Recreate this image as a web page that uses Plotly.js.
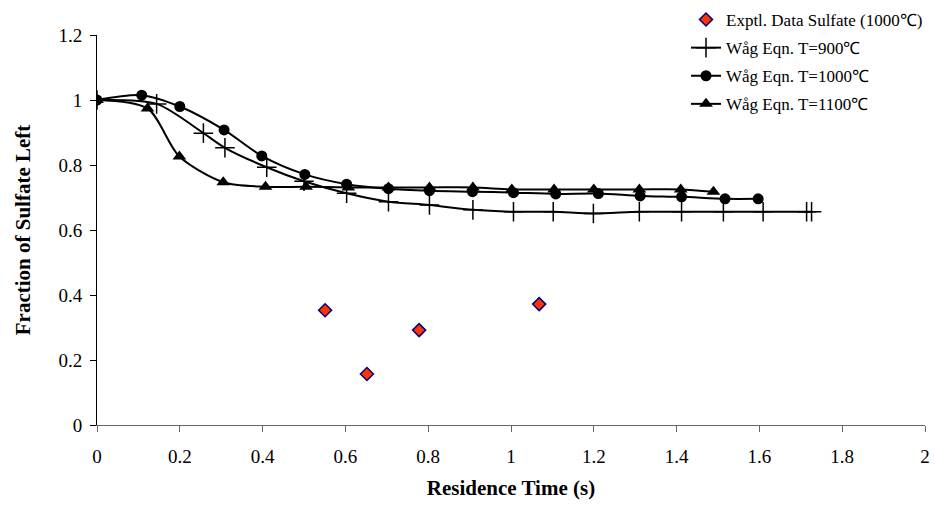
<!DOCTYPE html>
<html>
<head>
<meta charset="utf-8">
<script src="https://cdn.plot.ly/plotly-3.0.1.min.js"></script>
<style>html,body{margin:0;padding:0;background:#fff;}#chart{width:935px;height:514px;}</style>
</head>
<body>
<div id="chart"></div>
<script>
// Experimental data (1000 C)
const exptTime = [0.551, 0.652, 0.778, 1.068];
const exptFrac = [0.353, 0.157, 0.292, 0.372];

// Wag equation, T = 900 C
const t900 = [0, 0.144, 0.257, 0.309, 0.41, 0.5, 0.603, 0.704, 0.803, 0.908, 1.006, 1.102, 1.199, 1.31, 1.412, 1.513, 1.609, 1.714, 1.726];
const f900 = [1.0, 0.988, 0.898, 0.853, 0.793, 0.75, 0.713, 0.687, 0.677, 0.662, 0.656, 0.656, 0.651, 0.656, 0.656, 0.656, 0.656, 0.656, 0.656];

// Wag equation, T = 1000 C
const t1000 = [0, 0.108, 0.2, 0.307, 0.398, 0.502, 0.603, 0.704, 0.803, 0.907, 1.006, 1.108, 1.211, 1.312, 1.412, 1.517, 1.597];
const f1000 = [1.0, 1.015, 0.98, 0.908, 0.828, 0.771, 0.741, 0.727, 0.721, 0.718, 0.715, 0.711, 0.712, 0.705, 0.702, 0.696, 0.696];

// Wag equation, T = 1100 C
const t1100 = [0, 0.122, 0.199, 0.305, 0.407, 0.505, 0.607, 0.704, 0.803, 0.908, 1.002, 1.104, 1.2, 1.31, 1.41, 1.489];
const f1100 = [1.0, 0.974, 0.826, 0.747, 0.733, 0.733, 0.731, 0.731, 0.731, 0.731, 0.725, 0.725, 0.725, 0.725, 0.725, 0.718];

const names = ["Exptl. Data Sulfate (1000\u2103)", "W\u00e5g Eqn. T=900\u2103", "W\u00e5g Eqn. T=1000\u2103", "W\u00e5g Eqn. T=1100\u2103"];

const lineStyle = {color: "black", width: 2, shape: "spline", smoothing: 0.8};

const traces = [
  {x: exptTime, y: exptFrac, name: names[0], mode: "markers", type: "scatter", legendgroup: "a",
   marker: {symbol: "diamond", size: 10, color: "#FF3300", line: {color: "#000080", width: 1.5}}},
  {x: t900, y: f900, name: names[1], mode: "lines+markers", type: "scatter", legendgroup: "b",
   line: lineStyle, marker: {symbol: "cross-thin-open", size: 14, color: "black", line: {color: "black", width: 1.5}}},
  {x: t1000, y: f1000, name: names[2], mode: "lines+markers", type: "scatter", legendgroup: "c",
   line: lineStyle, marker: {symbol: "circle", size: 11, color: "black"}},
  {x: t1100, y: f1100, name: names[3], mode: "lines+markers", type: "scatter", legendgroup: "d",
   line: lineStyle, marker: {symbol: "triangle-up", size: 12, color: "black"}}
];

const font = "'Liberation Serif', 'Times New Roman', serif";

const layout = {
  width: 935, height: 514,
  margin: {l: 97, r: 10, t: 35, b: 89, autoexpand: false},
  paper_bgcolor: "white", plot_bgcolor: "white",
  font: {family: font, size: 19, color: "black"},
  showlegend: true,
  legend: {x: 686/935, y: 1 - 2/514, xref: "container", yref: "container", xanchor: "left", yanchor: "top",
           bgcolor: "rgba(255,255,255,0)", font: {family: font, size: 17, color: "black"},
           traceorder: "grouped", tracegroupgap: 3},
  xaxis: {range: [0, 2], dtick: 0.2, tick0: 0, showgrid: false, zeroline: false,
          showline: true, linecolor: "#666", linewidth: 1, ticks: "outside", ticklen: 6, tickcolor: "#666",
          tickfont: {family: font, size: 19}, ticklabelstandoff: 8,
          title: {text: "<b>Residence Time (s)</b>", font: {family: font, size: 21}, standoff: 14}},
  yaxis: {range: [0, 1.2], dtick: 0.2, tick0: 0, showgrid: false, zeroline: false,
          showline: true, linecolor: "black", linewidth: 1, ticks: "outside", ticklen: 6, tickcolor: "black",
          tickfont: {family: font, size: 19}, ticklabelstandoff: 4,
          title: {text: "<b>Fraction of Sulfate Left</b>", font: {family: font, size: 21}, standoff: 22}}
};

Plotly.newPlot("chart", traces, layout, {displayModeBar: false, staticPlot: true});
</script>
</body>
</html>
